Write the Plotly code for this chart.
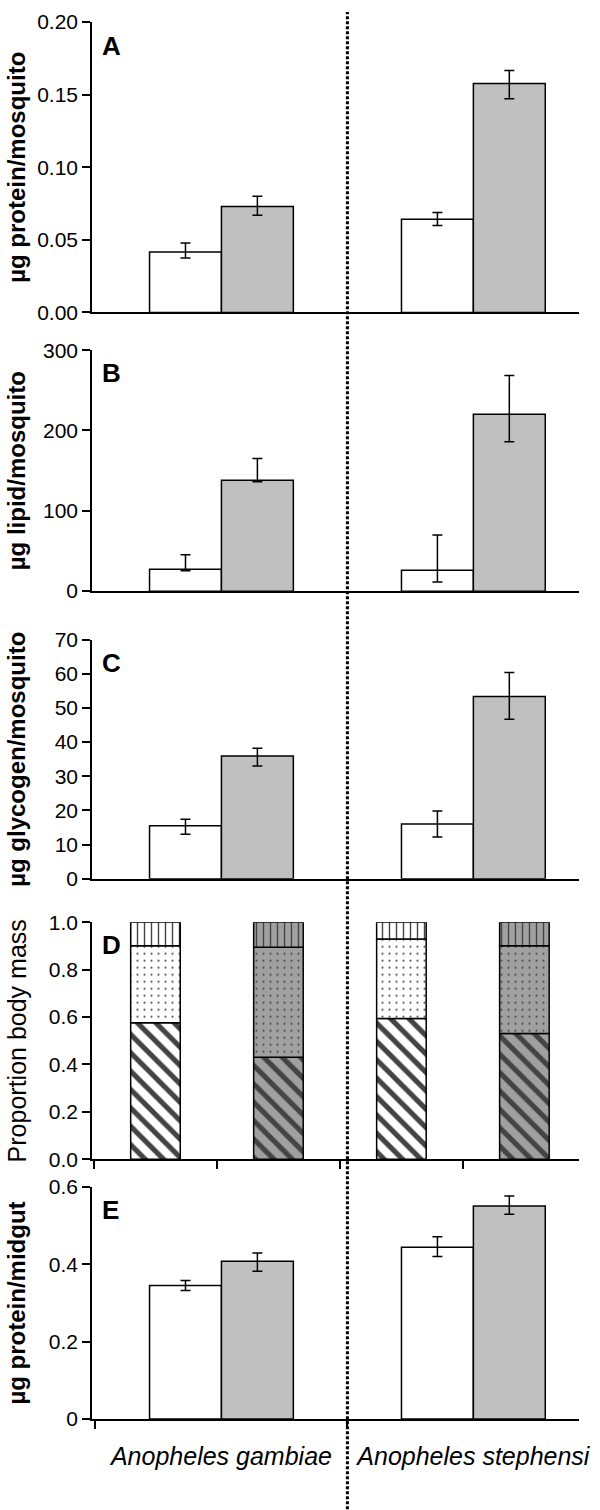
import plotly.graph_objects as go

species = ["Anopheles gambiae", "Anopheles stephensi"]
d_bars = ["gambiae white", "gambiae grey", "stephensi white", "stephensi grey"]

# A: protein per mosquito
prot_white = [0.0416, 0.0642]
prot_white_up = [0.0062, 0.0047]
prot_white_dn = [0.0041, 0.0043]
prot_grey = [0.0730, 0.1577]
prot_grey_up = [0.0070, 0.0089]
prot_grey_dn = [0.0060, 0.0105]

# B: lipid per mosquito
lip_white = [27.2, 25.9]
lip_white_up = [18.2, 44.0]
lip_white_dn = [1.8, 14.4]
lip_grey = [138.0, 220.1]
lip_grey_up = [27.2, 48.3]
lip_grey_dn = [1.8, 34.1]

# C: glycogen per mosquito
gly_white = [15.5, 16.0]
gly_white_up = [1.9, 3.8]
gly_white_dn = [2.5, 3.8]
gly_grey = [35.9, 53.4]
gly_grey_up = [2.3, 7.0]
gly_grey_dn = [2.9, 6.7]

# D: proportion of body mass (bottom / middle / top segment)
prop_stripes = [0.576, 0.430, 0.594, 0.531]
prop_dots = [0.325, 0.464, 0.335, 0.370]
prop_vlines = [0.099, 0.106, 0.071, 0.099]

# E: protein per midgut
mid_white = [0.345, 0.444]
mid_white_up = [0.013, 0.027]
mid_white_dn = [0.0125, 0.024]
mid_grey = [0.408, 0.5505]
mid_grey_up = [0.021, 0.026]
mid_grey_dn = [0.026, 0.021]

y_titles = ["µg protein/mosquito", "µg lipid/mosquito", "µg glycogen/mosquito",
            "Proportion body mass", "µg protein/midgut"]
letters = ["A", "B", "C", "D", "E"]

FONT = "Arial, Liberation Sans, sans-serif"
GREY = "#c0c0c0"
DGREY = "#a0a0a0"
W = 0.2854  # single bar width (category units)
XR = [-0.5138, 1.4193]
XR_D = [-0.516, 3.444]

domains = [[0.7921, 1.0], [0.5926, 0.7651], [0.3868, 0.5578], [0.1859, 0.3556], [0.0, 0.1661]]

fig = go.Figure()


def pair(i, white, wu, wd, grey, gu, gd):
    ax = "" if i == 1 else str(i)
    for vals, up, dn, col, off in [(white, wu, wd, "white", -W), (grey, gu, gd, GREY, 0)]:
        fig.add_trace(go.Bar(
            x=species, y=vals, width=W, offset=off,
            marker=dict(color=col, line=dict(color="black", width=1.5)),
            error_y=dict(type="data", array=up, arrayminus=dn, color="black",
                         thickness=1.5, width=5),
            xaxis="x" + ax, yaxis="y" + ax))


pair(1, prot_white, prot_white_up, prot_white_dn, prot_grey, prot_grey_up, prot_grey_dn)
pair(2, lip_white, lip_white_up, lip_white_dn, lip_grey, lip_grey_up, lip_grey_dn)
pair(3, gly_white, gly_white_up, gly_white_dn, gly_grey, gly_grey_up, gly_grey_dn)
pair(5, mid_white, mid_white_up, mid_white_dn, mid_grey, mid_grey_up, mid_grey_dn)

# D: stacked proportions with hatch patterns
d_colors = ["white", DGREY, "white", DGREY]
base = [0.0] * 4
for vals, shape, size, sol in [(prop_stripes, "\\", 13, 0.4),
                               (prop_dots, ".", 7, 0.07),
                               (prop_vlines, "|", 7, 0.2)]:
    fig.add_trace(go.Bar(
        x=d_bars, y=vals, base=list(base), width=0.403, offset=-0.2015,
        marker=dict(color=d_colors, line=dict(color="black", width=1.5),
                    pattern=dict(shape=shape, fgcolor="black", fgopacity=1,
                                 size=size, solidity=sol, fillmode="overlay")),
        xaxis="x4", yaxis="y4"))
    base = [b + v for b, v in zip(base, vals)]

y_ranges = [[0, 0.2], [0, 300], [0, 70], [0, 1.0], [0, 0.6]]
y_ticks = [[0, 0.05, 0.10, 0.15, 0.20], [0, 100, 200, 300],
           [0, 10, 20, 30, 40, 50, 60, 70], [0, 0.2, 0.4, 0.6, 0.8, 1.0],
           [0, 0.2, 0.4, 0.6]]
y_text = [["0.00", "0.05", "0.10", "0.15", "0.20"], ["0", "100", "200", "300"],
          ["0", "10", "20", "30", "40", "50", "60", "70"],
          ["0.0", "0.2", "0.4", "0.6", "0.8", "1.0"], ["0", "0.2", "0.4", "0.6"]]

layout = dict(
    width=600, height=1510, barmode="overlay", showlegend=False,
    margin=dict(l=92, r=17, t=10, b=91),
    paper_bgcolor="white", plot_bgcolor="white",
    font=dict(family=FONT, color="black"),
)

annotations = []
for k in range(5):
    i = k + 1
    ax = "" if i == 1 else str(i)
    is_d = i == 4
    xa = dict(
        domain=[0, 1], anchor="y" + ax, type="category",
        range=XR_D if is_d else XR,
        showline=True, linecolor="black", linewidth=1.5,
        showgrid=False, zeroline=False, fixedrange=True,
        showticklabels=(i == 5),
        ticks="outside" if i in (4, 5) else "", tickson="boundaries",
        ticklen=8, tickwidth=1.5, tickcolor="black",
        tickfont=dict(family=FONT, size=25, style="italic", color="black"),
        ticklabelstandoff=14,
    )
    ya = dict(
        domain=domains[k], anchor="x" + ax, range=y_ranges[k],
        tickvals=y_ticks[k], ticktext=y_text[k],
        showline=True, linecolor="black", linewidth=1.5,
        showgrid=False, zeroline=False, fixedrange=True,
        ticks="outside", ticklen=8, tickwidth=1.5, tickcolor="black",
        tickfont=dict(family=FONT, size=21, color="black"),
    )
    layout["xaxis" + ax] = xa
    layout["yaxis" + ax] = ya

    lo, hi = domains[k]
    annotations.append(dict(
        text=y_titles[k] if is_d else "<b>" + y_titles[k] + "</b>",
        xref="paper", yref="paper", x=(16 - 92) / 491, y=(lo + hi) / 2,
        xanchor="center", yanchor="middle", textangle=-90, showarrow=False,
        font=dict(family=FONT, size=25 if is_d else 24, color="black")))
    annotations.append(dict(
        text="<b>" + letters[k] + "</b>", xref="x" + ax + " domain",
        yref="y" + ax + " domain", x=0.016, y=0.975,
        xanchor="left", yanchor="top", showarrow=False,
        font=dict(family=FONT, size=26, color="black")))

layout["annotations"] = annotations

# dotted separator between the two species, running through all panels
sep_x = (0.5 - XR[0]) / (XR[1] - XR[0])
layout["shapes"] = [dict(
    type="line", xref="paper", yref="paper", x0=sep_x, x1=sep_x,
    y0=-0.0646, y1=1.0071,
    line=dict(color="black", width=3, dash="3px,2px"))]

fig.update_layout(**layout)
# drop the default 8px body margin so the 600x1510 figure fills the window
fig.write_html("out.html", config={"displayModeBar": False},
               post_script="document.body.style.margin='0';")
